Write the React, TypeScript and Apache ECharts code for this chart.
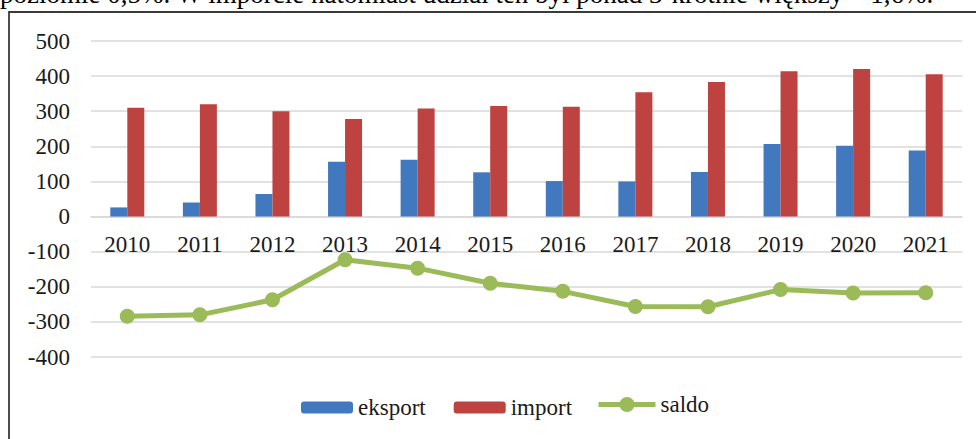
import React, { useEffect, useRef } from "react";
import * as echarts from "echarts";

const years = ["2010", "2011", "2012", "2013", "2014", "2015", "2016", "2017", "2018", "2019", "2020", "2021"];
const eksport = [26, 40, 64, 156, 162, 126, 101, 100, 127, 207, 202, 188];
const importData = [310, 320, 300, 278, 308, 315, 313, 354, 383, 414, 420, 405];
const saldo = [-284, -280, -237, -123, -147, -190, -213, -256, -257, -208, -218, -217];
const topText = "poziomie 0,5%. W imporcie natomiast udział ten był ponad 3-krotnie większy – 1,6%.";

const FONT = "Liberation Serif";

export default function App() {
  const ref = useRef<HTMLDivElement>(null);
  useEffect(() => {
    if (!ref.current) return;
    const chart = echarts.init(ref.current, null, { renderer: "svg" });
    const labelStyle = { fontFamily: FONT, fontSize: 23, color: "#1a1a1a" };
    chart.setOption({
      animation: false,
      backgroundColor: "#ffffff",
      textStyle: { fontFamily: FONT },
      grid: { left: 91, right: 14, top: 41, bottom: 82, containLabel: false },
      legend: [
        {
          left: 296,
          top: 391,
          itemWidth: 52,
          itemHeight: 12,
          itemGap: 28,
          textStyle: labelStyle,
          data: ["eksport", "import"],
        },
        {
          left: 591,
          top: 388,
          itemWidth: 57,
          itemHeight: 19,
          itemGap: 3,
          textStyle: labelStyle,
          lineStyle: { width: 5 },
          data: ["saldo"],
        },
      ],
      xAxis: {
        type: "category",
        data: years,
        offset: -140.4,
        axisTick: { show: false },
        axisLine: { onZero: false, lineStyle: { color: "#D9D9D9", width: 1.5 } },
        axisLabel: { ...labelStyle, margin: 16 },
      },
      yAxis: {
        type: "value",
        min: -400,
        max: 500,
        interval: 100,
        axisLine: { show: false },
        axisTick: { show: false },
        splitLine: { lineStyle: { color: "#D9D9D9", width: 1.5 } },
        axisLabel: { ...labelStyle, margin: 21 },
      },
      series: [
        {
          name: "eksport",
          type: "bar",
          data: eksport,
          barWidth: 17,
          barGap: "0%",
          itemStyle: { color: "#4178BE" },
        },
        {
          name: "import",
          type: "bar",
          data: importData,
          barWidth: 17,
          barGap: "0%",
          itemStyle: { color: "#BE4340" },
        },
        {
          name: "saldo",
          type: "line",
          data: saldo,
          symbol: "circle",
          symbolSize: 15,
          itemStyle: { color: "#9BBB59" },
          lineStyle: { color: "#9BBB59", width: 5 },
        },
      ],
      graphic: [
        {
          type: "text",
          left: 0,
          top: -19.5,
          style: { text: topText, fontFamily: FONT, fontSize: 27, fill: "#000000" },
        },
        {
          type: "polyline",
          shape: { points: [[9, 445], [9, 12], [980, 12]] },
          style: { stroke: "#3a3a3a", lineWidth: 1.8, fill: "none" },
        },
      ],
    });
    return () => chart.dispose();
  }, []);
  return (
    <div
      ref={ref}
      style={{ position: "fixed", left: 0, top: 0, width: 976, height: 439 }}
    />
  );
}
